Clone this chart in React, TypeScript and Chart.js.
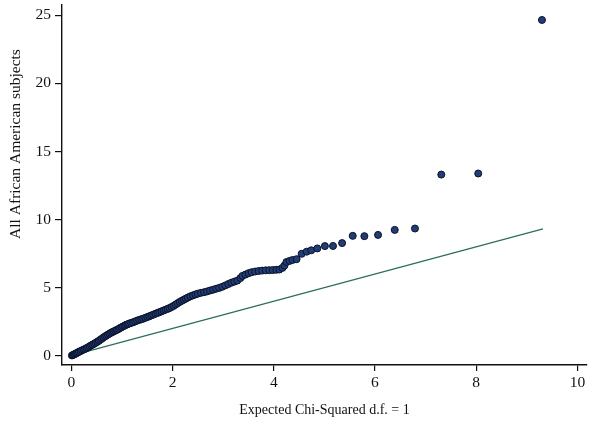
import React, { useEffect, useRef } from "react";
import { Chart, registerables } from "chart.js";

Chart.register(...registerables);

const expected: number[] = [
  0.01, 0.03, 0.05, 0.07, 0.09, 0.11, 0.13, 0.15, 0.18, 0.21, 0.24, 0.27, 0.30, 0.33, 0.36, 0.39,
  0.42, 0.45, 0.48, 0.51, 0.54, 0.57, 0.60, 0.63, 0.66, 0.69, 0.72, 0.75, 0.78, 0.81, 0.84, 0.87,
  0.90, 0.93, 0.96, 0.99, 1.02, 1.05, 1.08, 1.11, 1.14, 1.18, 1.22, 1.26, 1.30, 1.34, 1.38, 1.42,
  1.46, 1.50, 1.54, 1.58, 1.62, 1.66, 1.70, 1.74, 1.78, 1.82, 1.86, 1.90, 1.94, 1.98, 2.02, 2.06,
  2.10, 2.14, 2.18, 2.22, 2.26, 2.30, 2.35, 2.40, 2.45, 2.50, 2.56, 2.62, 2.68, 2.74, 2.80, 2.86,
  2.92, 2.98, 3.04, 3.10, 3.16, 3.22, 3.28, 3.34, 3.38, 3.44, 3.50, 3.56, 3.63, 3.70, 3.77, 3.84,
  3.91, 3.98, 4.05, 4.11, 4.17, 4.21, 4.25, 4.31, 4.37, 4.45, 4.55, 4.65, 4.74, 4.86, 5.01, 5.17,
  5.35, 5.56, 5.79, 6.06, 6.39, 6.79, 7.31, 8.04, 9.30,
];
const observed: number[] = [
  0.02, 0.05, 0.09, 0.13, 0.17, 0.21, 0.25, 0.29, 0.34, 0.40, 0.45, 0.50, 0.56, 0.62, 0.69, 0.76,
  0.82, 0.88, 0.95, 1.02, 1.09, 1.17, 1.25, 1.33, 1.41, 1.48, 1.55, 1.62, 1.68, 1.74, 1.79, 1.85,
  1.90, 1.96, 2.03, 2.09, 2.15, 2.21, 2.27, 2.31, 2.36, 2.41, 2.46, 2.52, 2.58, 2.63, 2.68, 2.72,
  2.78, 2.84, 2.90, 2.96, 3.02, 3.08, 3.14, 3.20, 3.26, 3.32, 3.38, 3.44, 3.50, 3.58, 3.66, 3.76,
  3.86, 3.95, 4.03, 4.11, 4.19, 4.27, 4.36, 4.43, 4.50, 4.56, 4.62, 4.66, 4.72, 4.79, 4.85, 4.92,
  4.98, 5.06, 5.16, 5.26, 5.36, 5.44, 5.52, 5.70, 5.86, 5.96, 6.06, 6.13, 6.18, 6.22, 6.25, 6.27,
  6.28, 6.29, 6.31, 6.33, 6.45, 6.62, 6.88, 6.96, 7.03, 7.09, 7.48, 7.64, 7.74, 7.88, 8.05, 8.06,
  8.27, 8.80, 8.78, 8.87, 9.24, 9.34, 13.30, 13.38, 24.65,
];

// Reference line y = x
const refLineX: number[] = [0, 9.32];

const xTicks: number[] = [0, 2, 4, 6, 8, 10];
const yTicks: number[] = [0, 5, 10, 15, 20, 25];

const xTitle = "Expected Chi-Squared d.f. = 1";
const yTitle = "All African American subjects";

const FONT = '"Liberation Serif", "Times New Roman", serif';

export default function App() {
  const ref = useRef<HTMLCanvasElement | null>(null);

  useEffect(() => {
    if (!ref.current) return;
    const yTitlePlugin = {
      id: "yTitle",
      afterDraw(chart: any) {
        const ctx = chart.ctx;
        ctx.save();
        ctx.translate(16, 144);
        ctx.rotate(-Math.PI / 2);
        ctx.font = `15.5px ${FONT}`;
        ctx.fillStyle = "#111";
        ctx.textAlign = "center";
        ctx.textBaseline = "middle";
        ctx.fillText(yTitle, 0, 0);
        ctx.restore();
      },
    };

    const chart = new Chart(ref.current, {
      type: "scatter",
      data: {
        datasets: [
          {
            type: "line",
            data: refLineX.map((v) => ({ x: v, y: v })),
            borderColor: "#2f6e5c",
            borderWidth: 1.3,
            pointRadius: 0,
            fill: false,
            order: 2,
          } as any,
          {
            data: expected.map((v, i) => ({ x: v, y: observed[i] })),
            backgroundColor: "#213d76",
            borderColor: "#0b1128",
            borderWidth: 1,
            pointRadius: 3.5,
            order: 1,
          },
        ],
      },
      options: {
        responsive: false,
        animation: false,
        devicePixelRatio: 1,
        layout: { padding: { top: 3, right: 13, left: 0, bottom: 0 } },
        plugins: {
          legend: { display: false },
          tooltip: { enabled: false },
        },
        scales: {
          x: {
            type: "linear",
            min: -0.186,
            max: 10.19,
            afterBuildTicks: (s: any) => {
              s.ticks = xTicks.map((v) => ({ value: v }));
            },
            afterFit: (s: any) => {
              s.height = 60;
              s.paddingLeft = 0;
              s.paddingRight = 0;
            },
            grid: {
              drawOnChartArea: false,
              drawTicks: true,
              tickLength: 6,
              color: "#111",
              lineWidth: 1.2,
            },
            border: { display: true, color: "#111", width: 1.4 },
            ticks: {
              color: "#111",
              font: { family: FONT, size: 15.5 },
              padding: 3,
              maxRotation: 0,
            },
            title: {
              display: true,
              text: xTitle,
              color: "#111",
              font: { family: FONT, size: 14 },
              padding: { top: 0, bottom: 6 },
            },
          },
          y: {
            type: "linear",
            min: -0.68,
            max: 25.75,
            afterBuildTicks: (s: any) => {
              s.ticks = yTicks.map((v) => ({ value: v }));
            },
            afterFit: (s: any) => {
              s.width = 62;
              s.paddingTop = 0;
              s.paddingBottom = 0;
            },
            grid: {
              drawOnChartArea: false,
              drawTicks: true,
              tickLength: 7,
              color: "#111",
              lineWidth: 1.2,
            },
            border: { display: true, color: "#111", width: 1.4 },
            ticks: {
              color: "#111",
              font: { family: FONT, size: 15.5 },
              padding: 4,
            },
          },
        },
      },
      plugins: [yTitlePlugin],
    });
    return () => chart.destroy();
  }, []);

  return (
    <canvas
      ref={ref}
      width={600}
      height={425}
      style={{ position: "fixed", left: 0, top: 0, display: "block", background: "#fff" }}
    />
  );
}
